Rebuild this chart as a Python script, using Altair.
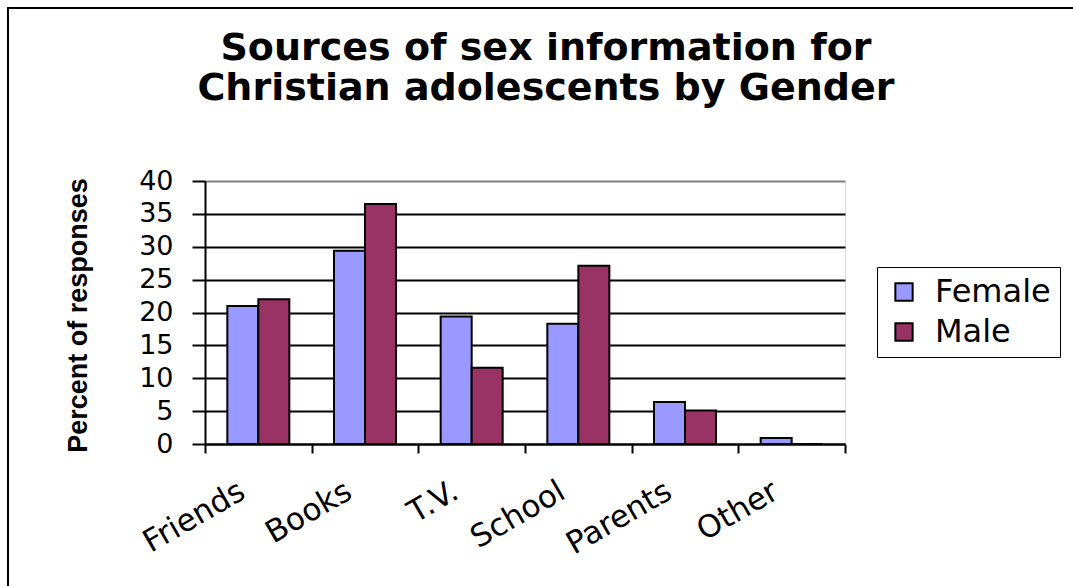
import altair as alt
import pandas as pd

# Survey results: share of responses naming each source, by gender
categories = ["Friends", "Books", "T.V.", "School", "Parents", "Other"]
female = [21.0, 29.4, 19.4, 18.3, 6.4, 0.9]
male = [22.0, 36.5, 11.6, 27.1, 5.1, 0.0]
genders = ["Female", "Male"]
colors = ["#9999FF", "#993366"]
y_ticks = [0, 5, 10, 15, 20, 25, 30, 35, 40]

rows = []
for cat, f, m in zip(categories, female, male):
    rows.append({"source": cat, "gender": "Female", "pct": f})
    rows.append({"source": cat, "gender": "Male", "pct": m})
df = pd.DataFrame(rows)

FONT = "DejaVu Sans"
BOLD = "Liberation Sans"

bars = alt.Chart(df).mark_bar(stroke="black", strokeWidth=2).encode(
    x=alt.X(
        "source:N",
        sort=categories,
        scale=alt.Scale(paddingInner=0, paddingOuter=0),
        axis=alt.Axis(
            title=None,
            labelAngle=-30,
            labelAlign="right",
            labelBaseline="middle",
            labelFontSize=31,
            labelFont=FONT,
            labelColor="black",
            labelPadding=36,
            labelOffset=-16,
            tickBand="extent",
            tickSize=9,
            tickWidth=2,
            tickColor="black",
            domainColor="black",
            domainWidth=2,
            grid=False,
        ),
    ),
    xOffset=alt.XOffset(
        "gender:N",
        sort=genders,
        scale=alt.Scale(paddingInner=0, paddingOuter=0.72),
    ),
    y=alt.Y(
        "pct:Q",
        scale=alt.Scale(domain=[0, 40], nice=False),
        axis=alt.Axis(
            title="Percent of responses",
            titleFont=BOLD,
            titleFontSize=27,
            titleFontWeight="bold",
            titleColor="black",
            titleAngle=270,
            titleAlign="center",
            titleBaseline="middle",
            titleX=-127,
            titleY=134,
            values=y_ticks,
            labelFontSize=27,
            labelFont=FONT,
            labelColor="black",
            labelPadding=19,
            tickSize=13,
            tickWidth=2,
            tickColor="black",
            domainColor="black",
            domainWidth=2,
            gridColor={"condition": {"test": "datum.value === 40", "value": "#808080"}, "value": "black"},
            gridWidth=2,
        ),
    ),
    color=alt.Color(
        "gender:N",
        sort=genders,
        scale=alt.Scale(domain=genders, range=colors),
        legend=alt.Legend(
            title=None,
            orient="none",
            legendX=672,
            legendY=86,
            symbolType="square",
            symbolSize=300,
            symbolStrokeColor="black",
            symbolStrokeWidth=2,
            symbolOpacity=1,
            symbolOffset=2,
            labelFont=FONT,
            labelFontSize=32,
            labelColor="black",
            labelOffset=15,
            rowPadding=8,
            padding=9,
            strokeColor="black",
            fillColor="white",
        ),
    ),
)

# Frame drawn around the whole figure
frame = alt.Chart(pd.DataFrame({"k": [0]})).mark_rect(
    fill="white", fillOpacity=0, stroke="black", strokeWidth=2
).encode(
    x=alt.value(-197), x2=alt.value(880),
    y=alt.value(-173), y2=alt.value(420),
)

chart = alt.layer(frame, bars).properties(
    width=640,
    height=263,
    padding={"left": 205, "top": 181, "right": 228, "bottom": 142},
    autosize=alt.AutoSizeParams(type="none"),
    title=alt.TitleParams(
        text=["Sources of sex information for", "Christian adolescents by Gender"],
        font=FONT,
        fontSize=38,
        fontWeight="bold",
        color="black",
        anchor="middle",
        baseline="alphabetic",
        dx=21,
        offset=-131,
        lineHeight=40,
    ),
).configure_view(
    fill="#C0C0C0", stroke="#808080", strokeWidth=2
).configure_legend(
    strokeWidth=2
).configure(background="white")

chart.save("out.html", embed_options={"renderer": "svg", "actions": False})
